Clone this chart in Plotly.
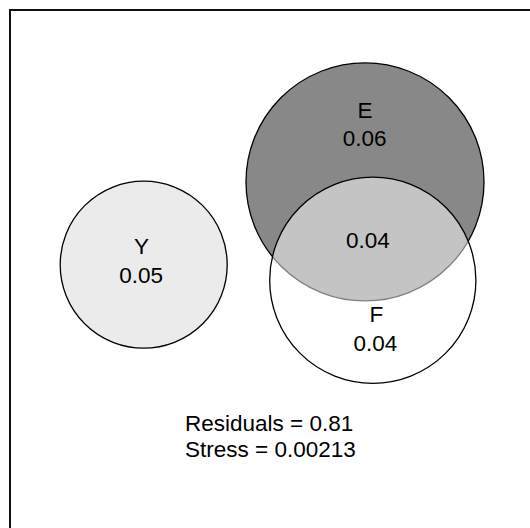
import plotly.graph_objects as go

# Euler diagram data (eulerr-style fit)
sets = ["Y", "E", "F"]
set_quantities = [0.05, 0.06, 0.04]
intersection_label = "E&F"
intersection_quantity = 0.04

# fitted circles (centre x, centre y, radius) in plot units
circle_x = [143.7, 365.0, 372.8]
circle_y = [264.7, 181.9, 280.2]
circle_r = [83.5, 119.0, 103.1]
circle_fill = ["#ebebeb", "#888888", "rgba(255,255,255,0.5)"]

# label anchor positions (set name, quantity)
name_x = [141.5, 365.0, 376.3]
name_y = [248.8, 112.0, 316.7]
qty_x = [141.2, 364.7, 375.5]
qty_y = [277.0, 140.3, 345.3]
inter_x, inter_y = 368.0, 242.7

residuals = 0.81
stress = 0.00213

W, H = 530, 528
FONT = "Liberation Sans, Arial, sans-serif"
FS = 22.5

fig = go.Figure()

shapes = []
# outer frame
shapes.append(dict(type="rect", xref="x", yref="y", x0=10, y0=10, x1=W + 20, y1=H + 20,
                   line=dict(color="#111111", width=2), fillcolor="rgba(0,0,0,0)", layer="below"))
for cx, cy, r, fc in zip(circle_x, circle_y, circle_r, circle_fill):
    shapes.append(dict(type="circle", xref="x", yref="y",
                       x0=cx - r, x1=cx + r, y0=cy - r, y1=cy + r,
                       fillcolor=fc, line=dict(color="black", width=1.3), layer="below"))

tf = dict(family=FONT, size=FS, color="black")
fig.add_trace(go.Scatter(x=name_x, y=name_y, mode="text", text=sets, textfont=tf,
                         hoverinfo="skip", showlegend=False))
fig.add_trace(go.Scatter(x=qty_x, y=qty_y, mode="text",
                         text=[f"{q:.2f}" for q in set_quantities], textfont=tf,
                         hoverinfo="skip", showlegend=False))
fig.add_trace(go.Scatter(x=[inter_x], y=[inter_y], mode="text",
                         text=[f"{intersection_quantity:.2f}"], textfont=tf,
                         hoverinfo="skip", showlegend=False))

for txt, yy in [(f"Residuals = {residuals}", 423.2), (f"Stress = {stress}", 449.8)]:
    fig.add_annotation(x=182.7, y=yy, xref="x", yref="y", xanchor="left", yanchor="middle",
                       align="left", showarrow=False, text=txt, font=tf)

fig.update_layout(
    width=W, height=H, margin=dict(l=0, r=0, t=0, b=0),
    paper_bgcolor="white", plot_bgcolor="white",
    shapes=shapes,
    xaxis=dict(range=[0, W], visible=False, fixedrange=True),
    yaxis=dict(range=[H, 0], visible=False, fixedrange=True),
)

fig.write_html("out.html", config={"displayModeBar": False},
               post_script="document.body.style.margin='0';document.body.style.overflow='hidden';")
